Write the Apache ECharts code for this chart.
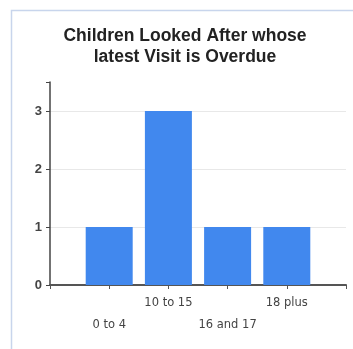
<!DOCTYPE html>
<html>
<head>
<meta charset="utf-8">
<script src="https://cdn.jsdelivr.net/npm/echarts@6/dist/echarts.min.js"></script>
<style>
html,body{margin:0;padding:0;background:#fff;}
#c{width:353px;height:349px;}
</style>
</head>
<body>
<div id="c"></div>
<script>
const titleText = 'Children Looked After whose\nlatest Visit is Overdue';
const categories = ['', '0 to 4', '10 to 15', '16 and 17', '18 plus', ''];
const values = ['-', 1, 3, 1, 1, '-'];
const yMin = 0, yMax = 3.5, yInterval = 1;

const chart = echarts.init(document.getElementById('c'), null, {renderer: 'canvas'});
chart.setOption({
  animation: false,
  backgroundColor: '#fff',
  graphic: [{
    type: 'rect', silent: true, z: -1,
    shape: {x: 11.5, y: 10.5, width: 400, height: 400},
    style: {fill: 'none', stroke: '#c8d5ec', lineWidth: 1.5}
  }],
  title: {
    text: titleText,
    left: 185, top: 26, textAlign: 'center', padding: 0,
    textStyle: {fontFamily: 'Liberation Sans, Arial, sans-serif', fontSize: 17.5, fontWeight: 'bold', color: '#222', lineHeight: 21}
  },
  grid: {left: 50, right: 7, top: 82, bottom: 64, containLabel: false},
  xAxis: {
    type: 'category', data: categories, boundaryGap: false,
    axisLine: {lineStyle: {color: '#555', width: 2}},
    axisTick: {show: true, length: 4, lineStyle: {color: '#555', width: 1}},
    axisLabel: {
      interval: 0, hideOverlap: false, margin: 7,
      fontFamily: 'DejaVu Sans, Verdana, sans-serif', fontSize: 11.5, color: '#444', lineHeight: 22,
      formatter: function (v, i) { return i % 2 === 1 ? '\n' + v : v; }
    },
    splitLine: {show: false}
  },
  yAxis: {
    type: 'value', min: yMin, max: yMax, interval: yInterval,
    axisLine: {show: true, lineStyle: {color: '#444', width: 1.5}},
    axisTick: {show: true, length: 4, lineStyle: {color: '#444'}},
    axisLabel: {
      margin: 8, fontFamily: 'Liberation Sans, Arial, sans-serif', fontSize: 13, fontWeight: 'bold', color: '#444',
      formatter: function (v) { return Number.isInteger(v) ? String(v) : ''; }
    },
    splitLine: {show: true, lineStyle: {color: ['#e8e8e8', '#e8e8e8', '#e8e8e8', '#e8e8e8', 'rgba(0,0,0,0)'], width: 1}}
  },
  series: [{
    type: 'bar', data: values, barWidth: 47,
    itemStyle: {color: '#4188ee'}
  }]
});
</script>
</body>
</html>
